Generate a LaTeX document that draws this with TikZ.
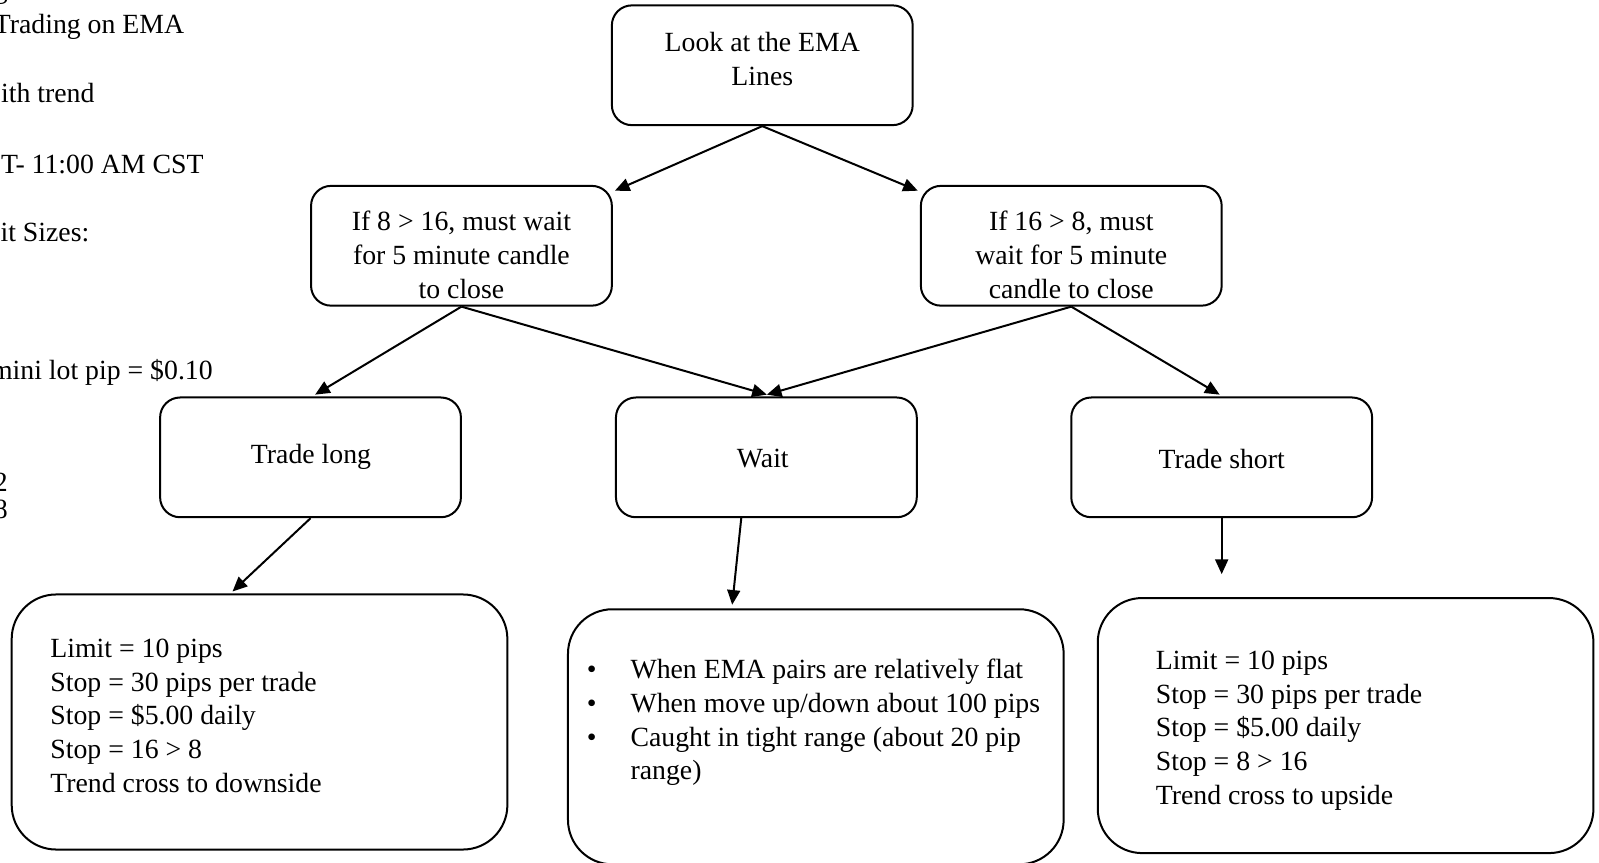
\documentclass[tikz,border=0pt]{standalone}
\usepackage{fontspec}
\setmainfont{Liberation Serif}
\usetikzlibrary{arrows.meta}
\begin{document}
\begin{tikzpicture}[x=0.459pt,y=-0.459pt,
  every node/.style={font=\fontsize{12.5}{15.15}\selectfont, inner sep=0pt},
  sbox/.style={draw, line width=0.9pt, rounded corners=9pt, minimum width=135.4pt, minimum height=53.9pt},
  bbox/.style={draw, line width=0.9pt, rounded corners=20pt, minimum width=223.1pt, minimum height=114.8pt},
  ctext/.style={align=center},
  ltext/.style={align=left, anchor=west},
  side/.style={anchor=base east},
  arr/.style={line width=0.9pt, -{Triangle[length=6.6pt,width=5.8pt]}}]
\useasboundingbox (0,0) rectangle (1568,846);

% clipped side notes
\node[side] (s0) at (8,-1.5) {g};
\node[side] (s1) at (181,32.5) {Trading on EMA};
\node[side] (s2) at (93,101) {ith trend};
\node[side] (s3) at (200,170) {T- 11:00 AM CST};
\node[side] (s4) at (88,237) {it Sizes:};
\node[side] (s5) at (209,372) {mini lot pip = \$0.10};
\node[side] (s6) at (8,482) {2};
\node[side] (s7) at (8,508) {8};

% boxes
\node[sbox] (look) at (747.5,64) {};
\node[ctext] (looktxt) at (747.5,58) {Look at the EMA\\Lines};

\node[sbox] (lm) at (452.5,241) {};
\node[ctext] (lmtxt) at (452.5,250) {If 8 > 16, must wait\\for 5 minute candle\\to close};

\node[sbox] (rm) at (1050.5,241) {};
\node[ctext] (rmtxt) at (1050.5,250) {If 16 > 8, must\\wait for 5 minute\\candle to close};

\node[sbox] (tl) at (304.5,448.5) {};
\node (tltxt) at (305,448) {Trade long};

\node[sbox] (w) at (751.5,448.5) {};
\node (wtxt) at (748,450) {Wait};

\node[sbox] (ts) at (1198,448.5) {};
\node (tstxt) at (1198,450) {Trade short};

\node[bbox] (bl) at (254.5,708) {};
\node[ltext] (bltxt) at (49,702) {Limit = 10 pips\\Stop = 30 pips per trade\\Stop = \$5.00 daily\\Stop = 16 > 8\\Trend cross to downside};

\node[bbox] (bm) at (800,722.5) {};
\node[ltext] (bmtxt) at (575,708.5) {\makebox[19.7pt][l]{\textbullet}When EMA pairs are relatively flat\\\makebox[19.7pt][l]{\textbullet}When move up/down about 100 pips\\\makebox[19.7pt][l]{\textbullet}Caught in tight range (about 20 pip\\\hspace*{19.7pt}range)};

\node[bbox] (br) at (1319.5,711.5) {};
\node[ltext] (brtxt) at (1133,716.5) {Limit = 10 pips\\Stop = 30 pips per trade\\Stop = \$5.00 daily\\Stop = 8 > 16\\Trend cross to upside};

% connector end points
\coordinate (t1) at (603,187);
\coordinate (t2) at (900,187);
\coordinate (t3) at (309,387);
\coordinate (t4) at (752,387);
\coordinate (t4b) at (1196,387);
\coordinate (t5) at (228,580);
\coordinate (ws) at (727,507);
\coordinate (t6) at (718,593);
\coordinate (t7) at (1198,563);

\draw[arr] (look.south) -- (t1);
\draw[arr] (look.south) -- (t2);
\draw[arr] (lm.south) -- (t3);
\draw[arr] (lm.south) -- (t4);
\draw[arr] (rm.south) -- (t4);
\draw[arr] (rm.south) -- (t4b);
\draw[arr] (tl.south) -- (t5);
\draw[arr] (ws) -- (t6);
\draw[arr] (ts.south) -- (t7);
\end{tikzpicture}
\end{document}
